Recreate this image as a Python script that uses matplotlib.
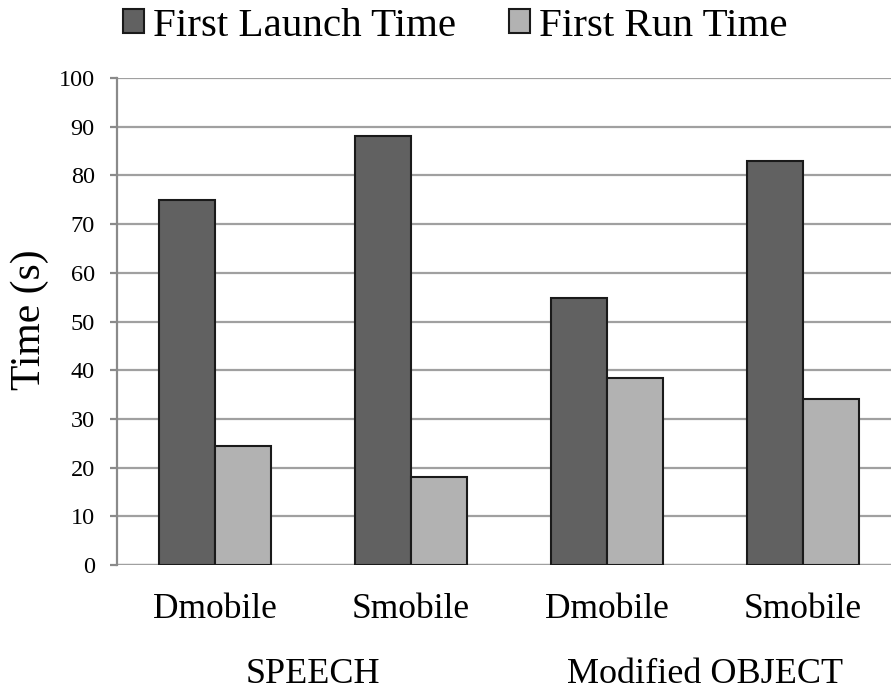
import numpy as np
import matplotlib.pyplot as plt

plt.rcParams['font.family'] = ['Liberation Serif', 'DejaVu Serif']

# startup timings per app build, grouped by workload
apps = ['Dmobile', 'Smobile', 'Dmobile', 'Smobile']
groups = ['SPEECH', 'Modified OBJECT']
launch_time = [75.0, 88.0, 54.8, 82.9]
run_time = [24.5, 18.0, 38.5, 34.1]

fig = plt.figure(figsize=(8.91, 6.98), dpi=100)
ax = fig.add_axes([117 / 891, 1 - 565 / 698, 784 / 891, 487 / 698])

x = np.arange(len(apps))
w = 0.286
b1 = ax.bar(x - w / 2, launch_time, w, color='#616161', edgecolor='#1a1a1a',
            linewidth=1.5, label='First Launch Time', zorder=3)
b2 = ax.bar(x + w / 2, run_time, w, color='#b2b2b2', edgecolor='#1a1a1a',
            linewidth=1.5, label='First Run Time', zorder=3)

ax.set_xlim(-0.5, len(apps) - 0.5)
ax.set_ylim(0, 100)
ax.set_yticks(np.arange(0, 101, 10))
ax.yaxis.grid(True, color='#a0a0a0', linewidth=1.6, zorder=0)
ax.set_axisbelow(True)

for s in ['top', 'right', 'bottom']:
    ax.spines[s].set_visible(False)
ax.spines['left'].set_color('#8a8a8a')
ax.spines['left'].set_linewidth(1.6)
ax.axhline(0, color='#a0a0a0', linewidth=1.6, zorder=2)

ax.tick_params(axis='y', length=5, width=1.6, color='#8a8a8a', labelsize=17.5, pad=11)
ax.set_xticks(x)
ax.set_xticklabels(apps, fontsize=25.5)
ax.tick_params(axis='x', length=0, pad=20)

# group names under each pair of categories
for i, g in enumerate(groups):
    ax.text(2 * i + 0.5, -0.225, g, transform=ax.get_xaxis_transform(),
            ha='center', va='center', fontsize=26)

fig.text(30 / 891, 1 - 320 / 698, 'Time (s)', rotation=90, ha='center',
         va='center', fontsize=30)

fig.legend(handles=[b1, b2], loc='center', bbox_to_anchor=(0.511, 1 - 26 / 698),
           ncol=2, frameon=False, fontsize=29.5, handlelength=0.5,
           handleheight=0.5, handletextpad=0.22, columnspacing=1.3,
           borderpad=0)

fig.savefig('out.png', dpi=100)
